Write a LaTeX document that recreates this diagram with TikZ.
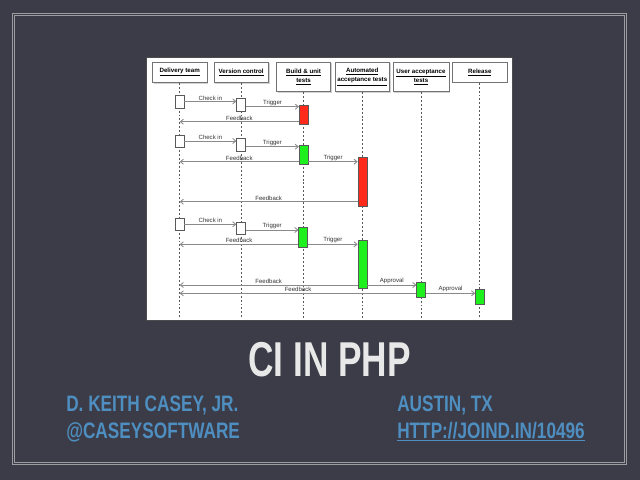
\documentclass[tikz,border=0pt]{standalone}
\usepackage{fontspec}
\setmainfont{Liberation Sans}
\newfontfamily\titlefont[FakeStretch=0.72]{Liberation Sans}
\newfontfamily\namefont[FakeStretch=0.77]{Liberation Sans}
\usetikzlibrary{arrows.meta,positioning,shadows,calc}
\definecolor{slide}{HTML}{3B3C47}
\definecolor{frameline}{HTML}{9C9CA0}
\definecolor{titlegray}{HTML}{E8E8E8}
\definecolor{steel}{HTML}{4F8EC0}
\definecolor{failred}{HTML}{FF2A1A}
\definecolor{passgreen}{HTML}{1EF01E}
\definecolor{msggray}{HTML}{8A8A8A}

\begin{document}
\begin{tikzpicture}[x=0.025cm,y=-0.025cm,
    every node/.style={font=\fontsize{4.3}{5}\selectfont},
    lane/.style={draw=black!55,fill=white,line width=0.5pt,align=center,
                 minimum width=1.36cm,inner sep=1pt,anchor=north,
                 font=\fontsize{4.4}{6.3}\selectfont\bfseries,
                 drop shadow={shadow xshift=0.8pt,shadow yshift=-0.8pt,opacity=0.35}},
    life/.style={black!65,line width=0.45pt,dash pattern=on 1.4pt off 1.4pt},
    act/.style={draw=black!65,line width=0.4pt,fill=white,
                minimum width=0.225cm,inner sep=0pt,
                drop shadow={shadow xshift=0.5pt,shadow yshift=-0.5pt,opacity=0.3}},
    fail/.style={act,fill=failred},
    pass/.style={act,fill=passgreen},
    msg/.style={msggray,line width=0.6pt,-{Straight Barb[length=2.2pt,width=3.6pt]}},
    lbl/.style={black!80,inner sep=0.6pt},
  ]
  \useasboundingbox (0,0) rectangle (640,480);
  \fill[slide] (0,0) rectangle (640,480);

  % slide frame
  \draw[frameline,line width=0.4pt] (12,13.3) rectangle (626.7,464);
  \draw[frameline,line width=0.4pt] (14,15.3) rectangle (624.7,462);

  % pipeline picture
  \draw[black!70,fill=white,line width=0.4pt] (146,57) rectangle (512,320);

  \node[lane,minimum height=0.52cm] (hDel)   at (179.7,61.5) {\underline{Delivery team}};
  \node[lane,minimum height=0.52cm] (hVC)    at (241.2,61.5) {\underline{Version control}};
  \node[lane,minimum height=0.73cm] (hBuild) at (303.6,62) {\underline{Build \& unit}\\\underline{tests}};
  \node[lane,minimum height=0.73cm] (hAcc)   at (362.3,62) {\underline{Automated}\\\underline{acceptance tests}};
  \node[lane,minimum height=0.73cm,minimum width=1.4cm] (hUAT) at (421,62) {\underline{User acceptance}\\\underline{tests}};
  \node[lane,minimum height=0.5cm] (hRel)    at (479.8,62) {\underline{Release}};

  \coordinate (bot) at (0,318);
  \foreach \h in {hDel,hVC,hBuild,hAcc,hUAT,hRel}
    \draw[life] (\h.south) -- (\h.south |- bot);

  % first run: unit tests fail
  \node[act,minimum height=0.32cm]  (d1) at (179.6,101.4) {};
  \node[act,minimum height=0.32cm]  (v1) at (241.2,104.7) {};
  \node[fail,minimum height=0.48cm] (b1) at (303.8,114.7) {};

  \draw[msg] (d1.east) -- (d1.east -| v1.west) node[lbl,midway,above] {Check in};
  \draw[msg] (v1.east |- 0,106.7) -- (b1.west |- 0,106.7) node[lbl,midway,above] {Trigger};
  \draw[msg] (b1.west |- 0,121.7) -- (hDel.south |- 0,121.7) node[lbl,midway,above] {Feedback};

  % second run: acceptance tests fail
  \node[act,minimum height=0.31cm]  (d2) at (179.6,141) {};
  \node[act,minimum height=0.32cm]  (v2) at (241.2,144.5) {};
  \node[pass,minimum height=0.48cm] (b2) at (303.6,154.7) {};
  \node[fail,minimum height=1.22cm] (a2) at (362.5,181.7) {};

  \draw[msg] (d2.east) -- (d2.east -| v2.west) node[lbl,midway,above] {Check in};
  \draw[msg] (v2.east |- 0,146.7) -- (b2.west |- 0,146.7) node[lbl,midway,above] {Trigger};
  \draw[msg] (b2.west |- 0,161.7) -- (hDel.south |- 0,161.7) node[lbl,midway,above] {Feedback};
  \draw[msg] (b2.east |- 0,161.7) -- (a2.west |- 0,161.7) node[lbl,midway,above] {Trigger};
  \draw[msg] (a2.west |- 0,201.7) -- (hDel.south |- 0,201.7) node[lbl,midway,above] {Feedback};

  % third run: released
  \node[act,minimum height=0.32cm]   (d3) at (179.6,224.3) {};
  \node[act,minimum height=0.32cm]   (v3) at (241.2,228.2) {};
  \node[pass,minimum height=0.5cm]   (b3) at (303.2,237.7) {};
  \node[pass,minimum height=1.21cm]  (a3) at (362.5,264.2) {};
  \node[pass,minimum height=0.385cm] (u3) at (421.2,290) {};
  \node[pass,minimum height=0.385cm] (r3) at (480,296.7) {};

  \draw[msg] (d3.east) -- (d3.east -| v3.west) node[lbl,midway,above] {Check in};
  \draw[msg] (v3.east |- 0,230) -- (b3.west |- 0,230) node[lbl,midway,above] {Trigger};
  \draw[msg] (b3.west |- 0,244.3) -- (hDel.south |- 0,244.3) node[lbl,midway,above] {Feedback};
  \draw[msg] (b3.east |- 0,244.3) -- (a3.west |- 0,244.3) node[lbl,midway,above] {Trigger};
  \draw[msg] (a3.west |- 0,285) -- (hDel.south |- 0,285) node[lbl,midway,above] {Feedback};
  \draw[msg] (a3.east |- 0,285) -- (u3.west |- 0,285) node[lbl,midway,above] {Approval};
  \draw[msg] (u3.west |- 0,293.3) -- (hDel.south |- 0,293.3) node[lbl,midway,above] {Feedback};
  \draw[msg] (u3.east |- 0,293.3) -- (r3.west |- 0,293.3) node[lbl,midway,above] {Approval};

  % slide text
  \node[font={\titlefont\bfseries\fontsize{34.8}{40}\selectfont},text=titlegray,anchor=base]
    (title) at (329.5,376) {CI IN PHP};
  \node[font={\namefont\bfseries\fontsize{15.9}{18}\selectfont},text=steel,anchor=base west,inner sep=0pt]
    (name) at (66,411) {D. KEITH CASEY, JR.};
  \node[font={\namefont\bfseries\fontsize{15.9}{18}\selectfont},text=steel,anchor=base west,inner sep=0pt]
    (handle) at (66,438) {@CASEYSOFTWARE};
  \node[font={\namefont\bfseries\fontsize{15.9}{18}\selectfont},text=steel,anchor=base west,inner sep=0pt]
    (city) at (397,411) {AUSTIN, TX};
  \node[font={\namefont\bfseries\fontsize{15.9}{18}\selectfont},text=steel,anchor=base west,inner sep=0pt]
    (link) at (397,438) {\underline{HTTP://JOIND.IN/10496}};
\end{tikzpicture}
\end{document}
